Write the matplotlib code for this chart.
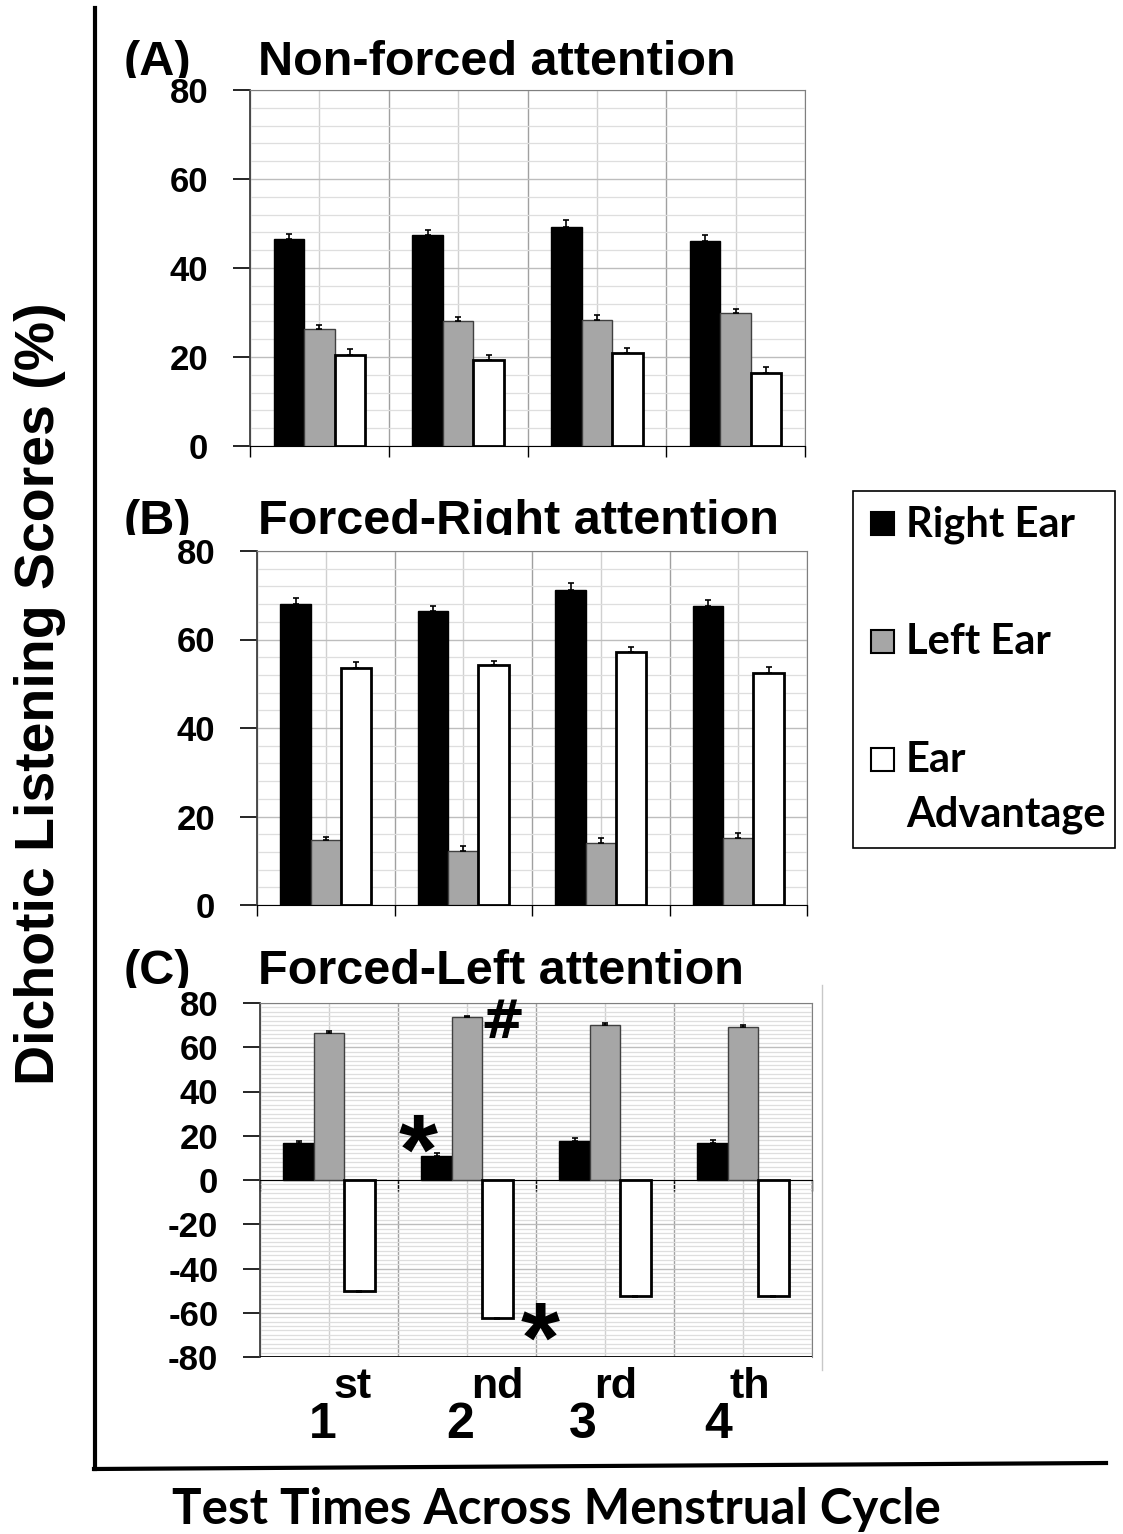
import matplotlib
matplotlib.use("Agg")
import matplotlib.pyplot as plt
import numpy as np
from matplotlib.lines import Line2D
from matplotlib.patches import Rectangle
from matplotlib.ticker import MultipleLocator
from matplotlib.transforms import Bbox

plt.rcParams["axes.unicode_minus"] = False

# ---- data ----
times = ["1", "2", "3", "4"]
suffixes = ["st", "nd", "rd", "th"]
series = ["Right Ear", "Left Ear", "Ear Advantage"]

a_right = [46.5, 47.5, 49.2, 46.1]
a_right_err = [1.2, 1.0, 1.5, 1.3]
a_left = [26.3, 28.2, 28.4, 29.8]
a_left_err = [0.8, 0.9, 1.0, 1.0]
a_adv = [20.4, 19.3, 21.0, 16.3]
a_adv_err = [1.5, 1.2, 1.0, 1.5]

b_right = [68.1, 66.4, 71.2, 67.5]
b_right_err = [1.2, 1.1, 1.5, 1.4]
b_left = [14.6, 12.2, 14.1, 15.1]
b_left_err = [0.8, 1.1, 1.0, 1.1]
b_adv = [53.5, 54.2, 57.2, 52.5]
b_adv_err = [1.5, 1.0, 1.2, 1.3]

c_right = [16.5, 11.0, 17.5, 16.8]
c_right_err = [1.3, 1.2, 1.7, 1.3]
c_left = [66.5, 73.5, 70.2, 69.2]
c_left_err = [0.8, 0.7, 0.8, 1.0]
c_adv = [-50.2, -62.5, -52.5, -52.5]
c_adv_err = [0.6, 0.5, 0.6, 0.6]

W, H = 1123, 1534
colors = ["black", "#a6a6a6", "white"]
edges = ["black", "#404040", "black"]
edge_w = [1.0, 1.0, 2.0]
label_nudge = [-6, -7, -22, -25]  # px shift of the 1st..4th labels

ARIAL = ["Liberation Sans", "DejaVu Sans"]
CALIBRI = ["Lato", "DejaVu Sans"]


def fx(px):
    return px / W


def fy(py):
    return 1 - py / H


fig = plt.figure(figsize=(W / 100, H / 100), dpi=100)


def panel(rect, vals, errs, ylim, minor):
    ax = fig.add_axes(rect)
    x = np.arange(len(times))
    width = 0.22
    for k in range(3):
        v = np.array(vals[k])
        e = np.array(errs[k])
        pos = x + (k - 1) * width
        ax.bar(pos, v, width, color=colors[k], edgecolor=edges[k],
               linewidth=edge_w[k], zorder=3)
        lower = np.where(v < 0, e, 0)
        upper = np.where(v >= 0, e, 0)
        ax.errorbar(pos, v, yerr=[lower, upper], fmt="none", ecolor="black",
                    elinewidth=1.2, capsize=2.5, capthick=1.2, zorder=4)
    ax.set_xlim(-0.5, len(times) - 0.5)
    ax.set_ylim(*ylim)
    ax.set_xticks(np.arange(-0.5, len(times), 1))
    ax.set_xticks(x, minor=True)
    ax.yaxis.set_major_locator(MultipleLocator(20))
    ax.yaxis.set_minor_locator(MultipleLocator(minor))
    ax.grid(which="major", axis="x", color="#a0a0a0", lw=1.0, zorder=0)
    ax.grid(which="minor", axis="x", color="#d0d0d0", lw=1.0, zorder=0)
    ax.grid(which="major", axis="y", color="#bdbdbd", lw=1.0, zorder=0)
    ax.grid(which="minor", axis="y", color="#dedede", lw=0.9, zorder=0)
    ax.set_xticklabels([])
    ax.tick_params(axis="x", which="major", length=8, width=1, direction="out")
    ax.tick_params(axis="x", which="minor", length=0)
    ax.tick_params(axis="y", which="major", length=12, width=1.2,
                   direction="out", pad=18, labelsize=25)
    ax.tick_params(axis="y", which="minor", length=0)
    for lab in ax.get_yticklabels():
        lab.set_family(ARIAL)
        lab.set_fontweight("bold")
    for s in ["top", "right"]:
        ax.spines[s].set_color("#7f7f7f")
    ax.spines["left"].set_color("#404040")
    ax.spines["left"].set_linewidth(1.3)
    ax.spines["bottom"].set_color("black")
    return ax


axA = panel([fx(250), fy(446), fx(805) - fx(250), fy(90) - fy(446)],
            [a_right, a_left, a_adv], [a_right_err, a_left_err, a_adv_err],
            (0, 80), 4)
axB = panel([fx(257), fy(905), fx(807) - fx(257), fy(551) - fy(905)],
            [b_right, b_left, b_adv], [b_right_err, b_left_err, b_adv_err],
            (0, 80), 4)
axC = panel([fx(260), fy(1357), fx(812) - fx(260), fy(1003) - fy(1357)],
            [c_right, c_left, c_adv], [c_right_err, c_left_err, c_adv_err],
            (-80, 80), 2)
axC.spines["bottom"].set_position(("data", 0))
axC.axhline(-80, color="black", lw=1.3, zorder=5)
axC.spines["top"].set_color("#7f7f7f")

# x tick labels with superscripts
for i, (t, s) in enumerate(zip(times, suffixes)):
    axC.annotate(t, xy=(i, -80), xycoords="data",
                 xytext=(label_nudge[i], -81), textcoords="offset pixels",
                 ha="center", va="baseline", fontsize=36, fontweight="bold",
                 family=ARIAL)
    axC.annotate(s, xy=(i, -80), xycoords="data",
                 xytext=(label_nudge[i] + 11, -41), textcoords="offset pixels",
                 ha="left", va="baseline", fontsize=31, fontweight="bold",
                 family=ARIAL)

# significance marks
axC.text(0.645, 10, "*", ha="center", va="center", fontsize=72,
         fontweight="bold", family=ARIAL)
axC.text(1.529, -75, "*", ha="center", va="center", fontsize=72,
         fontweight="bold", family=ARIAL)
axC.text(1.254, 71, "#", ha="center", va="center", fontsize=38,
         fontweight="bold", family=["DejaVu Sans"])

# panel titles (the source clips them at the plot area's top)
title_kw = dict(fontsize=35, fontweight="bold", family=ARIAL, va="baseline",
                ha="left")
titles = [("(A)", "Non-forced attention", 75, 78),
          ("(B)", "Forced-Right attention", 534, 535),
          ("(C)", "Forced-Left attention", 984, 988)]
for tag, name, base, clip in titles:
    for xp, s in [(124, tag), (258, name)]:
        t = fig.text(fx(xp), fy(base), s, **title_kw)
        t.set_clip_box(Bbox.from_extents(0, H - clip, W, H))
        t.set_clip_on(True)

# axis labels
fig.text(fx(40), fy(694), "Dichotic Listening Scores (%)", rotation=90,
         fontsize=40, fontweight="bold", family=ARIAL, ha="center",
         va="center")
fig.text(fx(556), fy(1509), "Test Times Across Menstrual Cycle",
         fontsize=35.5, fontweight="bold", family=CALIBRI, ha="center",
         va="center")

# outer frame lines
fig.add_artist(Line2D([fx(95), fx(95)], [fy(8), fy(1469)], color="black",
                      lw=3))
fig.add_artist(Line2D([fx(94), fx(1106)], [fy(1469), fy(1463)],
                      color="black", lw=3))
fig.add_artist(Line2D([fx(822), fx(822)], [fy(985), fy(1370)],
                      color="#c8c8c8", lw=1))

# legend
fig.add_artist(Rectangle((fx(853), fy(848)), fx(1115) - fx(853),
                         fy(491) - fy(848), transform=fig.transFigure,
                         facecolor="white", edgecolor="black", lw=1.2))
leg_square_top = [512, 630, 748]
for k in range(3):
    fig.add_artist(Rectangle((fx(871), fy(leg_square_top[k] + 23)), fx(23),
                             fy(0) - fy(23), transform=fig.transFigure,
                             facecolor=colors[k], edgecolor="black",
                             lw=1.5))
leg_kw = dict(fontsize=30, fontweight="bold", family=CALIBRI,
              va="baseline", ha="left")
fig.text(fx(906), fy(536), "Right Ear", **leg_kw)
fig.text(fx(906), fy(654), "Left Ear", **leg_kw)
fig.text(fx(906), fy(772), "Ear", **leg_kw)
fig.text(fx(906), fy(827), "Advantage", **leg_kw)

fig.savefig("out.png", dpi=100)
